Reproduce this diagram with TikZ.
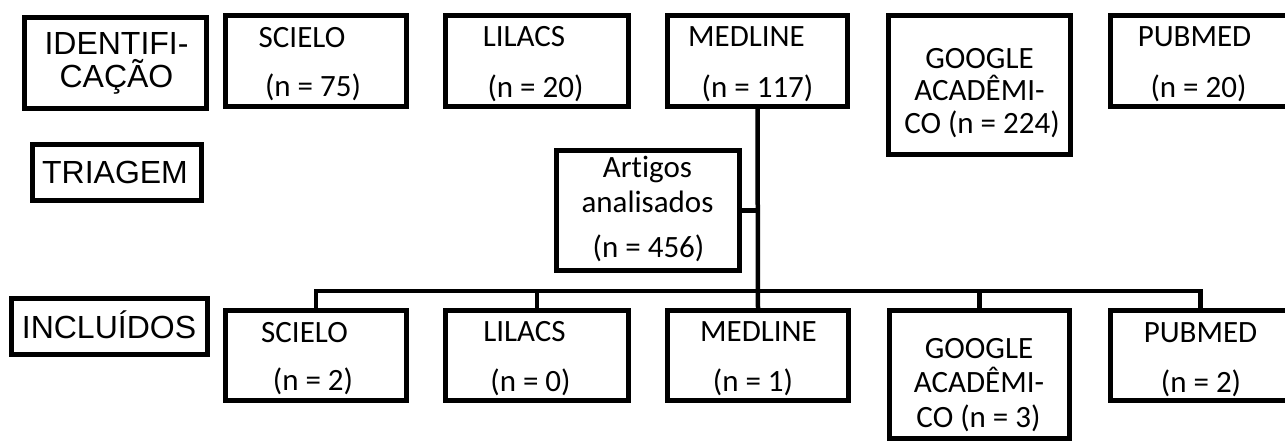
\documentclass[tikz,border=0pt]{standalone}
\usepackage{fontspec}
\setmainfont{Liberation Sans}
\newfontfamily\calib[Ligatures=NoCommon]{Carlito}
\begin{document}
\begin{tikzpicture}[x=1pt,y=-1pt,
  box/.style={draw,line width=5pt,inner sep=0pt,outer sep=0pt,minimum width=#1},
  box/.default=182pt,
  conn/.style={line width=4.5pt,line join=miter},
  lbl/.style={anchor=base,inner sep=0pt,font=\calib\fontsize{31}{31}\selectfont},
  stage/.style={anchor=base,inner sep=0pt,font=\fontsize{32}{32}\selectfont}]
\useasboundingbox (0,0) rectangle (1285,444);
\clip (0,0) rectangle (1285,444);
% stage boxes
\node[box=182pt,minimum height=91pt] (idb) at (115.5,63) {};
\node[box=169pt,minimum height=56pt] (trb) at (117,172.5) {};
\node[box=196pt,minimum height=56pt] (inb) at (109.5,326.5) {};
\node[stage] (idt1) at (116.5,55) {IDENTIFI-};
\node[stage] (idt2) at (116.5,88) {CAÇÃO};
\node[stage] (trt) at (115,183) {TRIAGEM};
\node[stage] (int) at (109,338) {INCLUÍDOS};
% top boxes
\node[box=181pt,minimum height=91pt] (st) at (316,61) {};
\node[box=183pt,minimum height=91pt] (lt) at (537,61) {};
\node[box=180pt,minimum height=91pt] (mt) at (757.5,61) {};
\node[box=182pt,minimum height=139pt] (gt) at (979.5,85) {};
\node[box=181pt,minimum height=91pt] (pt) at (1200.5,61) {};
\node[lbl] (st1) at (302,48) {SCIELO};
\node[lbl] (st2) at (313,96) {(n = 75)};
\node[lbl] (lt1) at (524,47) {LILACS};
\node[lbl] (lt2) at (535.5,97) {(n = 20)};
\node[lbl] (mt1) at (746.5,47) {MEDLINE};
\node[lbl] (mt2) at (757.5,97) {(n = 117)};
\node[lbl] (gt1) at (979.5,68) {GOOGLE};
\node[lbl] (gt2) at (979.5,100) {ACADÊMI-};
\node[lbl] (gt3) at (982,133) {CO (n = 224)};
\node[lbl] (pt1) at (1194.5,47) {PUBMED};
\node[lbl] (pt2) at (1198.5,97) {(n = 20)};
% middle box
\node[box=183pt,minimum height=120pt] (art) at (648,210.5) {};
\node[lbl] (art1) at (647.5,177) {Artigos};
\node[lbl] (art2) at (647.5,212) {analisados};
\node[lbl] (art3) at (648.5,257) {(n = 456)};
% bottom boxes
\node[box=181pt,minimum height=90pt] (sb) at (316,355.5) {};
\node[box=183pt,minimum height=90pt] (lb) at (537,355.5) {};
\node[box=181pt,minimum height=90pt] (mb) at (758,355.5) {};
\node[box=180pt,minimum height=128pt] (gb) at (979.5,374.5) {};
\node[box=181pt,minimum height=90pt] (pb) at (1200.5,355.5) {};
\node[lbl] (sb1) at (304.5,342) {SCIELO};
\node[lbl] (sb2) at (313,390) {(n = 2)};
\node[lbl] (lb1) at (524.5,341) {LILACS};
\node[lbl] (lb2) at (530.5,391) {(n = 0)};
\node[lbl] (mb1) at (758.5,341) {MEDLINE};
\node[lbl] (mb2) at (753,391) {(n = 1)};
\node[lbl] (gb1) at (979,358) {GOOGLE};
\node[lbl] (gb2) at (979,392) {ACADÊMI-};
\node[lbl] (gb3) at (978.5,427) {CO (n = 3)};
\node[lbl] (pb1) at (1200.5,342) {PUBMED};
\node[lbl] (pb2) at (1201,392) {(n = 2)};
% connectors
\coordinate (bar) at (758,291);
\draw[conn] (mt.south) -- (mb.north);
\draw[conn] (art.east) -- (art.east -| mt.south);
\draw[conn] (sb.north) -- (sb.north |- bar) -- (pb.north |- bar) -- (pb.north);
\draw[conn] (lb.north |- bar) -- (lb.north);
\draw[conn] (gb.north |- bar) -- (gb.north);
\end{tikzpicture}
\end{document}
